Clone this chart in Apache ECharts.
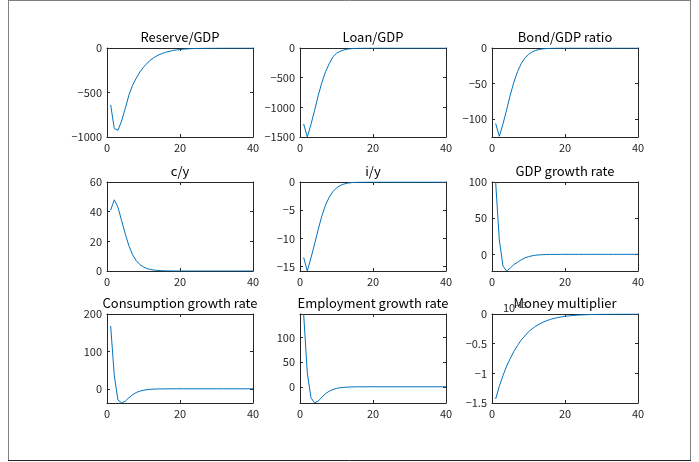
<!DOCTYPE html>
<html>
<head>
<meta charset="utf-8">
<script src="https://cdn.jsdelivr.net/npm/echarts@6/dist/echarts.min.js"></script>
<style>
  html, body { margin: 0; padding: 0; background: #fff; }
  #chart { width: 699px; height: 462px; }
</style>
</head>
<body>
<div id="chart"></div>
<script>
const steps = [1, 2, 3, 4, 5, 6, 7, 8, 9, 10, 11, 12, 13, 14, 15, 16, 17, 18, 19, 20,
  21, 22, 23, 24, 25, 26, 27, 28, 29, 30, 31, 32, 33, 34, 35, 36, 37, 38, 39, 40]

const titles = ['Reserve/GDP', 'Loan/GDP', 'Bond/GDP ratio', 'c/y', 'i/y', 'GDP growth rate',
  'Consumption growth rate', 'Employment growth rate', 'Money multiplier']

const reserveGdp = [-640, -905, -925, -820, -680, -530, -420, -340, -270, -215, -170, -133, -104, -81, -63, -49, -38, -29, -22, -17,
  -13, -10, -7.6, -5.8, -4.4, -3.3, -2.5, -1.9, -1.4, -1.1, -0.8, -0.6, -0.45, -0.34, -0.26, -0.2, -0.15, -0.11, -0.08, -0.06]
const loanGdp = [-1280, -1500, -1290, -1050, -800, -580, -400, -265, -150, -90, -55, -33, -20, -12, -7, -4.2, -2.5, -1.5, -0.9, -0.5,
  -0.3, -0.18, -0.1, -0.06, -0.04, -0.02, -0.01, 0, 0, 0, 0, 0, 0, 0, 0, 0, 0, 0, 0, 0]
const bondGdp = [-106, -124, -107, -87, -66, -48, -33, -22, -14, -9, -5.5, -3.3, -2, -1.2, -0.7, -0.4, -0.25, -0.15, -0.09, -0.05,
  -0.03, -0.02, -0.01, 0, 0, 0, 0, 0, 0, 0, 0, 0, 0, 0, 0, 0, 0, 0, 0, 0]
const cy = [41, 48, 43, 34, 25, 17, 11, 7, 4.3, 2.7, 1.6, 1, 0.6, 0.35, 0.2, 0.12, 0.07, 0.04, 0.02, 0.01,
  0, 0, 0, 0, 0, 0, 0, 0, 0, 0, 0, 0, 0, 0, 0, 0, 0, 0, 0, 0]
const iy = [-13.4, -15.8, -13.5, -11, -8.4, -6, -4.1, -2.7, -1.7, -1.05, -0.63, -0.37, -0.21, -0.12, -0.07, -0.04, -0.02, -0.01, 0, 0,
  0, 0, 0, 0, 0, 0, 0, 0, 0, 0, 0, 0, 0, 0, 0, 0, 0, 0, 0, 0]
const gdpGrowth = [100, 20, -16, -23, -19, -14, -11, -7.5, -5, -3.2, -2, -1.2, -0.7, -0.4, -0.22, -0.12, -0.06, -0.03, -0.01, 0,
  0, 0, 0, 0, 0, 0, 0, 0, 0, 0, 0, 0, 0, 0, 0, 0, 0, 0, 0, 0]
const consGrowth = [168, 35, -30, -38, -33, -24, -16, -10, -6.3, -3.8, -2.3, -1.4, -0.8, -0.5, -0.3, -0.15, -0.08, -0.04, -0.02, 0,
  0, 0, 0, 0, 0, 0, 0, 0, 0, 0, 0, 0, 0, 0, 0, 0, 0, 0, 0, 0]
const emplGrowth = [148, 28, -22, -33, -29, -21, -14, -9, -5.6, -3.4, -2, -1.2, -0.7, -0.4, -0.2, -0.1, -0.05, -0.02, 0, 0,
  0, 0, 0, 0, 0, 0, 0, 0, 0, 0, 0, 0, 0, 0, 0, 0, 0, 0, 0, 0]
// shown in units of 10^-13
const moneyMult = [-1.43, -1.22, -1.04, -0.88, -0.75, -0.63, -0.53, -0.44, -0.37, -0.3, -0.25, -0.205, -0.168, -0.137, -0.112, -0.091, -0.074, -0.06, -0.049, -0.04,
  -0.032, -0.026, -0.021, -0.017, -0.014, -0.011, -0.009, -0.007, -0.006, -0.005, -0.004, -0.003, -0.0025, -0.002, -0.0016, -0.0013, -0.001, -0.0008, -0.0006, -0.0005]

const seriesValues = [reserveGdp, loanGdp, bondGdp, cy, iy, gdpGrowth, consGrowth, emplGrowth, moneyMult]

const yLimits = [[-1000, 0], [-1500, 0], [-125, 0], [0, 60], [-15.8, 0], [-23, 100], [-38, 200], [-33, 148], [-1.5, 0]]
const yTicks = [
  [-1000, -500, 0],
  [-1500, -1000, -500, 0],
  [-100, -50, 0],
  [0, 20, 40, 60],
  [-15, -10, -5, 0],
  [0, 50, 100],
  [0, 100, 200],
  [0, 50, 100],
  [-1.5, -1, -0.5, 0]
]
const xTicks = [0, 20, 40]

const colLeft = [107, 300, 492]
const rowTop = [48, 182, 314]
const plotW = 146
const plotH = 89

const axisColor = '#262626'
const font = 'Noto Sans CJK JP'
const fmt = (v) => String(v).replace('-', '\u2212')

const chart = echarts.init(document.getElementById('chart'))

const grid = []
const xAxis = []
const yAxis = []
const series = []
const title = []

titles.forEach((name, i) => {
  const left = colLeft[i % 3]
  const top = rowTop[Math.floor(i / 3)]
  grid.push({ left, top, width: plotW, height: plotH })

  const lineStyle = { color: axisColor, width: 1 }
  const tick = { inside: true, length: 3, lineStyle }

  xAxis.push({
    type: 'value', gridIndex: i, min: 0, max: 40,
    axisLine: { show: true, onZero: false, lineStyle },
    axisTick: { ...tick, customValues: xTicks },
    axisLabel: { customValues: xTicks, color: axisColor, fontFamily: font, fontSize: 11, margin: 5, formatter: fmt },
    splitLine: { show: false }
  })
  xAxis.push({
    type: 'value', gridIndex: i, min: 0, max: 40, position: 'top',
    axisLine: { show: true, onZero: false, lineStyle },
    axisTick: { ...tick, customValues: xTicks },
    axisLabel: { show: false },
    splitLine: { show: false }
  })
  yAxis.push({
    type: 'value', gridIndex: i, min: yLimits[i][0], max: yLimits[i][1],
    axisLine: { show: true, onZero: false, lineStyle },
    axisTick: { ...tick, customValues: yTicks[i] },
    axisLabel: { customValues: yTicks[i], color: axisColor, fontFamily: font, fontSize: 11, margin: 5, formatter: fmt },
    splitLine: { show: false }
  })
  yAxis.push({
    type: 'value', gridIndex: i, min: yLimits[i][0], max: yLimits[i][1], position: 'right',
    axisLine: { show: true, onZero: false, lineStyle },
    axisTick: { ...tick, customValues: yTicks[i] },
    axisLabel: { show: false },
    splitLine: { show: false }
  })

  series.push({
    type: 'line',
    xAxisIndex: i * 2,
    yAxisIndex: i * 2,
    data: steps.map((s, k) => [s, seriesValues[i][k]]),
    showSymbol: false,
    clip: true,
    lineStyle: { color: '#0072BD', width: 1 },
    itemStyle: { color: '#0072BD' }
  })

  title.push({
    text: name,
    left: left + plotW / 2,
    top: top - 17,
    textAlign: 'center',
    padding: 0,
    textStyle: { fontFamily: font, fontSize: 13, fontWeight: 'normal', color: '#000' }
  })
})

const option = {
  backgroundColor: '#fff',
  animation: false,
  title,
  grid,
  xAxis,
  yAxis,
  series,
  graphic: [
    // figure window frame
    { type: 'line', shape: { x1: 8.5, y1: 0, x2: 8.5, y2: 460 }, style: { stroke: '#808080', lineWidth: 1 } },
    { type: 'line', shape: { x1: 8, y1: 0.5, x2: 691, y2: 0.5 }, style: { stroke: '#808080', lineWidth: 1 } },
    { type: 'line', shape: { x1: 690.5, y1: 0, x2: 690.5, y2: 460 }, style: { stroke: '#808080', lineWidth: 1 } },
    { type: 'line', shape: { x1: 8, y1: 460.5, x2: 691, y2: 460.5 }, style: { stroke: '#222', lineWidth: 1 } },
    // exponent of the money multiplier axis
    {
      type: 'text', left: 503, top: 301, z: 10,
      style: {
        text: '{b|10}{s|-13}',
        rich: {
          b: { fontFamily: font, fontSize: 11, fill: axisColor },
          s: { fontFamily: font, fontSize: 8, fill: axisColor, verticalAlign: 'top', padding: [0, 0, 6, 0] }
        }
      }
    }
  ]
}

chart.setOption(option)

window.addEventListener('resize', () => {
  chart.resize()
})
</script>
</body>
</html>
